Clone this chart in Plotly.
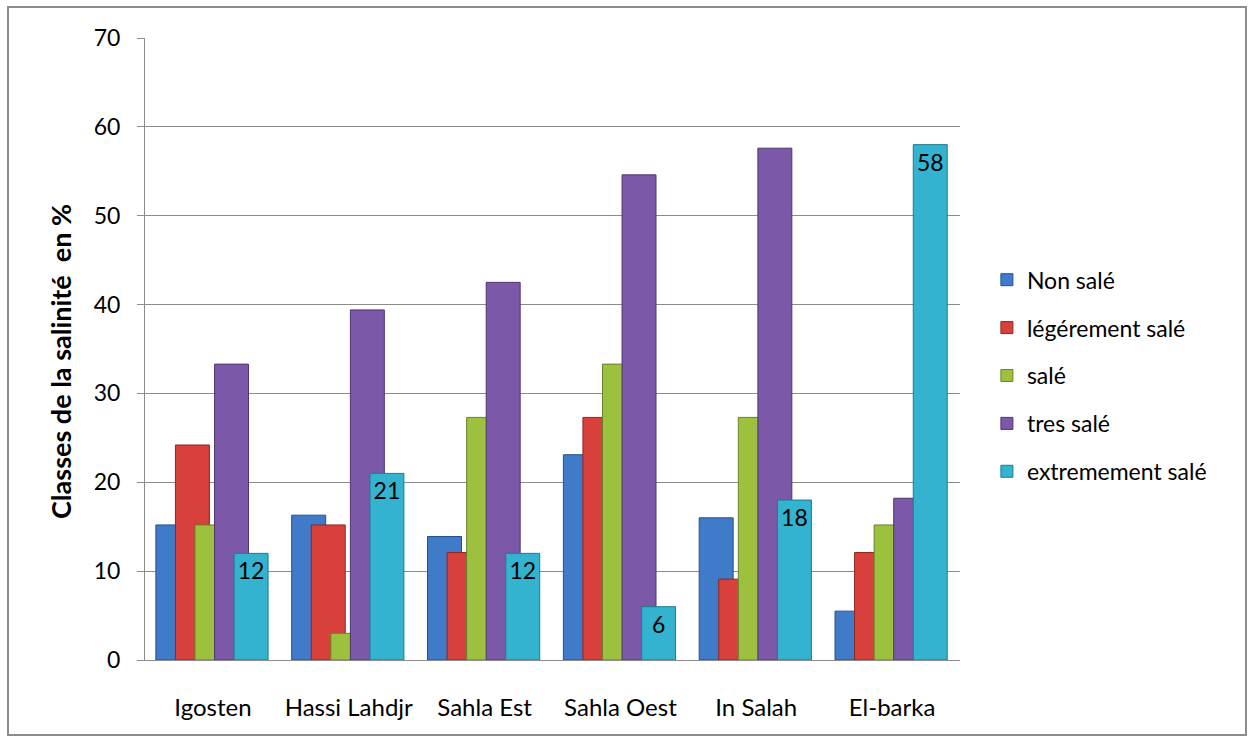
import plotly.graph_objects as go

# Sites and salinity class shares (%)
sites = ["Igosten", "Hassi Lahdjr", "Sahla Est", "Sahla Oest", "In Salah", "El-barka"]
non_sale = [15.2, 16.3, 13.9, 23.1, 16.0, 5.5]
legerement_sale = [24.2, 15.2, 12.1, 27.3, 9.1, 12.1]
sale = [15.2, 3.0, 27.3, 33.3, 27.3, 15.2]
tres_sale = [33.3, 39.4, 42.5, 54.6, 57.6, 18.2]
extremement_sale = [12, 21, 12, 6, 18, 58]

series_names = ["Non salé", "légérement salé", "salé", "tres salé", "extremement salé"]
series_values = [non_sale, legerement_sale, sale, tres_sale, extremement_sale]
fill_colors = ["#3F7BC9", "#D8403C", "#9DC03F", "#7B58A8", "#33B3CF"]
edge_colors = ["#24508A", "#8E2522", "#66822A", "#4E3670", "#1F7A8E"]

FONT = "Lato, 'Open Sans', sans-serif"

fig = go.Figure()

bar_width = 0.25
step = 0.144
first_offset = -0.42

for i, (name, vals) in enumerate(zip(series_names, series_values)):
    is_last = i == len(series_names) - 1
    fig.add_trace(go.Bar(
        x=sites,
        y=vals,
        name=name,
        width=bar_width,
        offset=first_offset + i * step,
        marker=dict(color=fill_colors[i], line=dict(color=edge_colors[i], width=1)),
        text=vals if is_last else None,
        texttemplate="%{y:.0f}" if is_last else None,
        textposition="inside" if is_last else "none",
        insidetextanchor="end",
        textangle=0,
        constraintext="none",
        textfont=dict(family=FONT, size=23, color="black"),
        legendgroup=name,
    ))

fig.update_layout(
    width=1253,
    height=742,
    barmode="overlay",
    paper_bgcolor="white",
    plot_bgcolor="white",
    font=dict(family=FONT, size=22, color="black"),
    margin=dict(l=145, r=293, t=38, b=82),
    legend=dict(
        x=1.033, y=0.457, xanchor="left", yanchor="middle",
        font=dict(family=FONT, size=23, color="black"),
        tracegroupgap=15,
        itemwidth=30,
        bgcolor="rgba(0,0,0,0)",
    ),
    showlegend=True,
)

fig.update_yaxes(
    range=[0, 70],
    dtick=10,
    showgrid=True,
    gridcolor="#8C8C8C",
    gridwidth=1,
    showline=True,
    linecolor="#8C8C8C",
    ticks="outside",
    ticklen=7,
    tickcolor="#8C8C8C",
    ticklabelstandoff=12,
    tickfont=dict(family=FONT, size=23, color="black"),
    zeroline=False,
)

fig.update_xaxes(
    showline=True,
    linecolor="#8C8C8C",
    ticks="",
    ticklabelstandoff=26,
    tickfont=dict(family=FONT, size=24, color="black"),
)

# Vertical y-axis title
fig.add_annotation(
    text="<b>Classes de la salinité  en %</b>",
    xref="paper", yref="paper",
    x=(60 - 145) / 815, y=(660 - 362) / 622,
    xanchor="center", yanchor="middle",
    textangle=-90,
    showarrow=False,
    font=dict(family=FONT, size=27, color="black"),
)

# Outer chart frame
fig.add_shape(
    type="rect", xref="paper", yref="paper",
    x0=(8 - 145) / 815, x1=(1246 - 145) / 815,
    y0=(660 - 735) / 622, y1=(660 - 7) / 622,
    line=dict(color="#8C8C8C", width=2),
    fillcolor="rgba(0,0,0,0)",
    layer="below",
)

fig.write_html("out.html")
